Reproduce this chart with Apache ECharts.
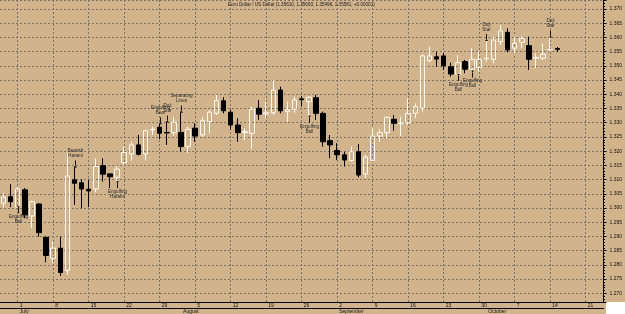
<!DOCTYPE html>
<html>
<head>
<meta charset="utf-8">
<script src="https://cdn.jsdelivr.net/npm/echarts@6/dist/echarts.min.js"></script>
<style>
html, body { margin: 0; padding: 0; background: #fff; }
#chart { width: 625px; height: 314px; }
</style>
</head>
<body>
<div id="chart"></div>
<script>
// trading days 27 Jun .. 23 Oct 2013, weekends skipped
var dates = [];
for (var d = new Date(2013, 5, 27); d <= new Date(2013, 9, 23); d.setDate(d.getDate() + 1)) {
  if (d.getDay() === 0 || d.getDay() === 6) continue;
  var mm = ('0' + (d.getMonth() + 1)).slice(-2), dd = ('0' + d.getDate()).slice(-2);
  dates.push(d.getFullYear() + '-' + mm + '-' + dd);
}
var monthNames = ['January', 'February', 'March', 'April', 'May', 'June', 'July',
  'August', 'September', 'October', 'November', 'December'];

var opens = [1.3017, 1.3040, 1.3003, 1.3064, 1.2972, 1.3014, 1.2897, 1.2823, 1.2859, 1.2780,
  1.3099, 1.3089, 1.3066, 1.3067, 1.3149, 1.3120, 1.3108, 1.3160, 1.3190, 1.3222,
  1.3190, 1.3275, 1.3284, 1.3266, 1.3265, 1.3266, 1.3216, 1.3281, 1.3257, 1.3304,
  1.3333, 1.3377, 1.3337, 1.3292, 1.3265, 1.3263, 1.3351, 1.3331, 1.3335, 1.3415,
  1.3339, 1.3348, 1.3384, 1.3374, 1.3388, 1.3333, 1.3237, 1.3202, 1.3187, 1.3167,
  1.3198, 1.3120, 1.3167, 1.3253, 1.3265, 1.3312, 1.3297, 1.3300, 1.3333, 1.3351,
  1.3518, 1.3532, 1.3535, 1.3497, 1.3470, 1.3515, 1.3488, 1.3495, 1.3525, 1.3523,
  1.3585, 1.3618, 1.3562, 1.3583, 1.3571, 1.3527, 1.3527, 1.3557, 1.35610];
var closes = [1.3038, 1.3022, 1.3067, 1.2976, 1.3022, 1.2913, 1.2833, 1.2859, 1.2773, 1.3113,
  1.3087, 1.3067, 1.3060, 1.3146, 1.3119, 1.3110, 1.3137, 1.3195, 1.3222, 1.3189,
  1.3272, 1.3277, 1.3263, 1.3264, 1.3302, 1.3216, 1.3277, 1.3253, 1.3307, 1.3337,
  1.3378, 1.3342, 1.3292, 1.3265, 1.3269, 1.3348, 1.3330, 1.3335, 1.3415, 1.3342,
  1.3347, 1.3380, 1.3381, 1.3390, 1.3333, 1.3233, 1.3222, 1.3187, 1.3169, 1.3198,
  1.3116, 1.3179, 1.3253, 1.3265, 1.3319, 1.3298, 1.3299, 1.3333, 1.3356, 1.3535,
  1.3535, 1.3524, 1.3500, 1.3471, 1.3511, 1.3488, 1.3523, 1.3523, 1.3527, 1.3591,
  1.3623, 1.3556, 1.3579, 1.3597, 1.3523, 1.3530, 1.3541, 1.3558, 1.35581];
var lows = [1.3003, 1.3003, 1.3003, 1.2964, 1.2929, 1.2899, 1.2809, 1.2806, 1.2761, 1.2765,
  1.3011, 1.2999, 1.3003, 1.3055, 1.3093, 1.3070, 1.3091, 1.3151, 1.3167, 1.3185,
  1.3167, 1.3257, 1.3242, 1.3222, 1.3255, 1.3198, 1.3193, 1.3233, 1.3250, 1.3263,
  1.3327, 1.3333, 1.3275, 1.3233, 1.3239, 1.3208, 1.3310, 1.3316, 1.3327, 1.3333,
  1.3304, 1.3335, 1.3357, 1.3321, 1.3310, 1.3216, 1.3175, 1.3169, 1.3146, 1.3163,
  1.3108, 1.3105, 1.3165, 1.3233, 1.3245, 1.3272, 1.3253, 1.3292, 1.3316, 1.3339,
  1.3513, 1.3497, 1.3486, 1.3462, 1.3468, 1.3474, 1.3480, 1.3480, 1.3515, 1.3509,
  1.3573, 1.3548, 1.3544, 1.3562, 1.3486, 1.3492, 1.3521, 1.3551, 1.35496];
var highs = [1.3052, 1.3084, 1.3073, 1.3070, 1.3026, 1.3017, 1.2899, 1.2882, 1.2899, 1.3194,
  1.3146, 1.3101, 1.3099, 1.3175, 1.3175, 1.3122, 1.3148, 1.3216, 1.3233, 1.3257,
  1.3277, 1.3286, 1.3298, 1.3304, 1.3321, 1.3339, 1.3286, 1.3298, 1.3321, 1.3345,
  1.3398, 1.3390, 1.3345, 1.3316, 1.3281, 1.3357, 1.3380, 1.3374, 1.3450, 1.3427,
  1.3374, 1.3391, 1.3394, 1.3392, 1.3398, 1.3339, 1.3257, 1.3228, 1.3198, 1.3216,
  1.3225, 1.3187, 1.3281, 1.3277, 1.3321, 1.3327, 1.3321, 1.3386, 1.3368, 1.3541,
  1.3567, 1.3550, 1.3544, 1.3511, 1.3538, 1.3521, 1.3562, 1.3550, 1.3591, 1.3603,
  1.3644, 1.3632, 1.3603, 1.3603, 1.3603, 1.3544, 1.3579, 1.3603, 1.35663];

// pattern annotations
var annIdx = [2, 10, 16, 22, 23, 25, 43, 64, 66, 68, 77];
var annText = ['Engulfing\nBull', 'Bearish\nHarami', 'Engulfing\nHarami', 'Engulfing\nBear', 'Doji\nStar',
  'Separating\nLines', 'Engulfing\nBull', 'Engulfing\nBull', 'Engulfing\nBull', 'Doji\nStar', 'Doji\nStar'];
var annSide = ['below', 'above', 'below', 'above', 'above', 'above', 'below', 'below', 'below', 'above', 'above'];

var candles = opens.map(function (o, i) { return [o, closes[i], lows[i], highs[i]]; });
var annData = annIdx.map(function (k, j) { return [k, annSide[j] === 'above' ? highs[k] : lows[k]]; });

function isMonday(i) { return new Date(dates[i] + 'T00:00:00').getDay() === 1; }
function isMonthStart(i) { return i > 0 && dates[i].slice(5, 7) !== dates[i - 1].slice(5, 7); }

var gridColor = '#7d7468';
var font = '"Liberation Sans", Arial, sans-serif';

var chart = echarts.init(document.getElementById('chart'));
chart.setOption({
  animation: false,
  backgroundColor: '#d2b48c',
  title: {
    text: 'Euro Dollar / US Dollar (1.35610, 1.35663, 1.35496, 1.35581, +0.00001)',
    left: 228, top: 2, padding: 0,
    textStyle: { fontSize: 4.6, fontWeight: 'normal', color: '#222', fontFamily: font }
  },
  grid: { left: 0, right: 19, top: 0, bottom: 12 },
  xAxis: [{
    type: 'category',
    data: dates,
    axisLine: { lineStyle: { color: '#000', width: 1 } },
    axisTick: { alignWithLabel: true, interval: isMonday, length: 6, lineStyle: { color: '#000' } },
    axisLabel: {
      interval: isMonday, margin: 1, fontSize: 5, color: '#111', fontFamily: font,
      align: 'left', verticalAlign: 'top', padding: [0, 0, 0, 2],
      formatter: function (v) { return String(Number(v.slice(8))); }
    },
    splitLine: { show: true, alignWithLabel: true, interval: isMonday,
      lineStyle: { color: gridColor, type: [2, 2], width: 1 } }
  }, {
    type: 'category',
    data: dates,
    position: 'bottom',
    offset: 6,
    axisLine: { lineStyle: { color: '#000', width: 1 } },
    axisTick: { alignWithLabel: true, interval: isMonthStart, length: 6, lineStyle: { color: '#000' } },
    axisLabel: {
      interval: isMonthStart, margin: 1, fontSize: 5, color: '#111', fontFamily: font,
      align: 'left', verticalAlign: 'top', padding: [0, 0, 0, 2],
      formatter: function (v) { return monthNames[Number(v.slice(5, 7)) - 1]; }
    },
    splitLine: { show: false }
  }],
  yAxis: {
    type: 'value',
    position: 'right',
    min: 1.26694,
    max: 1.37317,
    splitNumber: 21,
    axisLine: { show: true, lineStyle: { color: '#000' } },
    axisTick: { show: true, length: 3, lineStyle: { color: '#000' } },
    minorTick: { show: true, splitNumber: 5, length: 1.5, lineStyle: { color: '#000' } },
    axisLabel: {
      fontSize: 5, color: '#111', margin: 6, fontFamily: font,
      showMinLabel: false, showMaxLabel: false,
      formatter: function (v) { return v.toFixed(3); }
    },
    splitLine: { lineStyle: { color: gridColor, type: [2, 2], width: 1 } }
  },
  graphic: [{
    type: 'rect', shape: { x: 606, y: 302, width: 19, height: 12 },
    style: { fill: '#fff' }
  }],
  series: [{
    type: 'candlestick',
    data: candles,
    barWidth: 5,
    itemStyle: {
      color: 'rgba(0,0,0,0)', color0: '#000',
      borderColor: '#fff8ee', borderColor0: '#000', borderWidth: 1
    }
  }, {
    type: 'custom',
    data: annData,
    encode: { x: 0, y: 1 },
    z: 5,
    renderItem: function (params, api) {
      var p = api.coord([api.value(0), api.value(1)]);
      var x = Math.round(p[0]) + 0.5, y = p[1];
      var j = params.dataIndex;
      var up = annSide[j] === 'above';
      var tip = up ? y - 1 : y + 1, tail = up ? y - 6 : y + 6;
      var head = up ? -2 : 2;
      return {
        type: 'group',
        children: [{
          type: 'line',
          shape: { x1: x, y1: tail, x2: x, y2: tip },
          style: { stroke: '#111', lineWidth: 1 }
        }, {
          type: 'polygon',
          shape: { points: [[x - 1.5, tip - head], [x + 1.5, tip - head], [x, tip]] },
          style: { fill: '#111' }
        }, {
          type: 'text',
          style: {
            text: annText[j], x: x, y: up ? y - 8 : y + 7,
            align: 'center', verticalAlign: up ? 'bottom' : 'top',
            fontSize: 4.6, lineHeight: 5, fontFamily: font, fill: '#2a2a2a'
          }
        }]
      };
    }
  }]
});
</script>
</body>
</html>
